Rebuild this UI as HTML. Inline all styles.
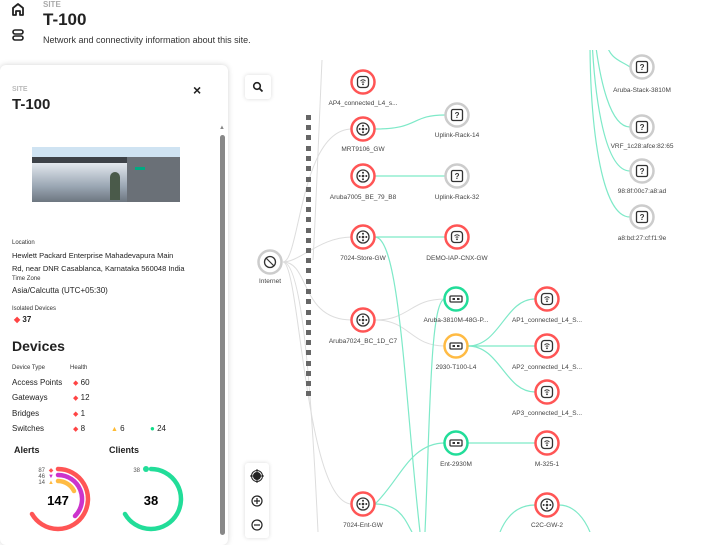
<!DOCTYPE html>
<html><head><meta charset="utf-8"><style>
*{margin:0;padding:0;box-sizing:border-box}
body{width:720px;height:532px;overflow:hidden;background:#fff;font-family:"Liberation Sans",sans-serif;color:#222;position:relative}
.abs{position:absolute}
.card{position:absolute;left:0;top:65px;width:228px;height:480px;background:#fff;border-radius:6px;box-shadow:0 0 6px rgba(0,0,0,.18)}
.s{font-size:7px;color:#333}
.b{font-size:8px;font-weight:bold;color:#222}
</style></head><body>
<svg class="abs" style="left:10px;top:2px" width="16" height="42" viewBox="0 0 16 42">
<path d="M3 13 V6 L8 2 L13 6 V13 H10 V9 H6 V13 Z" fill="none" stroke="#222" stroke-width="1.8" stroke-linejoin="round"/>
<rect x="3" y="28" width="10" height="4" rx="2" fill="none" stroke="#222" stroke-width="1.6"/>
<rect x="3" y="34" width="10" height="4" rx="2" fill="none" stroke="#222" stroke-width="1.6"/>
</svg>
<div class="abs" style="left:43px;top:0px;font-size:8px;color:#aaa;font-weight:bold">SITE</div>
<div class="abs" style="left:43px;top:10px;font-size:17px;font-weight:bold">T-100</div>
<div class="abs" style="left:43px;top:35px;font-size:9px;color:#333">Network and connectivity information about this site.</div>

<div class="card">
<div class="abs" style="left:12px;top:21px;font-size:7px;color:#bbb;font-weight:bold">SITE</div>
<div class="abs" style="left:12px;top:31px;font-size:15px;font-weight:bold">T-100</div>
<div class="abs" style="left:193px;top:17px;font-size:14px;font-weight:bold">×</div>
<div class="abs" style="left:32px;top:82px;width:148px;height:55px;background:#cfe3f2;overflow:hidden">
<div class="abs" style="left:0;top:10px;width:148px;height:6px;background:#3d4248"></div>
<div class="abs" style="left:0;top:16px;width:95px;height:39px;background:linear-gradient(#e3e8ee,#9aa6b3 60%,#6d7680)"></div>
<div class="abs" style="left:95px;top:10px;width:53px;height:45px;background:#6a7077"></div>
<div class="abs" style="left:103px;top:20px;width:10px;height:3px;background:#01a982"></div>
<div class="abs" style="left:78px;top:25px;width:10px;height:28px;background:#4a5a4a;border-radius:5px 5px 0 0"></div>
</div>
<div class="abs" style="left:220px;top:70px;width:5px;height:400px;background:#888;border-radius:3px"></div>
<div class="abs" style="left:219px;top:60px;font-size:6px;color:#888">▲</div>
<div class="abs s" style="left:12px;top:175px;font-size:6px">Location</div>
<div class="abs" style="left:12px;top:184px;font-size:7.5px;color:#222;line-height:13px;white-space:nowrap">Hewlett Packard Enterprise Mahadevapura Main<br>Rd, near DNR Casablanca, Karnataka 560048 India</div>
<div class="abs s" style="left:12px;top:211px;font-size:6px">Time Zone</div>
<div class="abs" style="left:12px;top:221px;font-size:8px">Asia/Calcutta (UTC+05:30)</div>
<div class="abs s" style="left:12px;top:241px;font-size:6px">Isolated Devices</div>
<div class="abs b" style="left:14px;top:250px"><span style="color:#f44">◆</span> 37</div>
<div class="abs" style="left:12px;top:273px;font-size:14px;font-weight:bold">Devices</div>
<div class="abs s" style="left:12px;top:300px;font-size:6px">Device Type</div>
<div class="abs s" style="left:70px;top:300px;font-size:6px">Health</div>
<div class="abs" style="left:12px;top:313px;font-size:8px">Access Points</div><div class="abs" style="left:73px;top:313px;font-size:8px"><span style="color:#f44;font-size:7px">◆</span> 60</div>
<div class="abs" style="left:12px;top:328px;font-size:8px">Gateways</div><div class="abs" style="left:73px;top:328px;font-size:8px"><span style="color:#f44;font-size:7px">◆</span> 12</div>
<div class="abs" style="left:12px;top:344px;font-size:8px">Bridges</div><div class="abs" style="left:73px;top:344px;font-size:8px"><span style="color:#f44;font-size:7px">◆</span> 1</div>
<div class="abs" style="left:12px;top:359px;font-size:8px">Switches</div><div class="abs" style="left:73px;top:359px;font-size:8px"><span style="color:#f44;font-size:7px">◆</span> 8</div>
<div class="abs" style="left:111px;top:359px;font-size:8px"><span style="color:#fb3;font-size:7px">▲</span> 6</div>
<div class="abs" style="left:150px;top:359px;font-size:8px"><span style="color:#1d8;font-size:8px">●</span> 24</div>
<div class="abs" style="left:14px;top:380px;font-size:9px;font-weight:bold">Alerts</div>
<div class="abs" style="left:109px;top:380px;font-size:9px;font-weight:bold">Clients</div>
</div>
<svg class="abs" style="left:0;top:455px" width="230" height="80">
<g transform="translate(58,44)">
<path d="M0 -30 A30 30 0 1 1 -26 15" fill="none" stroke="#f55" stroke-width="4.5" stroke-linecap="round"/>
<path d="M0 -24 A24 24 0 0 1 17 17" fill="none" stroke="#c3c" stroke-width="4.5" stroke-linecap="round"/>
<path d="M0 -18 A18 18 0 0 1 16 -8" fill="none" stroke="#fb4" stroke-width="4.5" stroke-linecap="round"/>
<text x="0" y="6" font-size="13" font-weight="bold" text-anchor="middle" font-family="Liberation Sans">147</text>
<text x="-13" y="-27" font-size="6" fill="#555" text-anchor="end">87</text>
<text x="-13" y="-21" font-size="6" fill="#555" text-anchor="end">46</text>
<text x="-13" y="-15" font-size="6" fill="#555" text-anchor="end">14</text>
<text x="-7" y="-27" font-size="6" fill="#f55" text-anchor="middle">◆</text>
<text x="-7" y="-21" font-size="6" fill="#c3c" text-anchor="middle">▼</text>
<text x="-7" y="-15" font-size="6" fill="#fb4" text-anchor="middle">▲</text>
</g>
<g transform="translate(151,44)">
<path d="M0 -30 A30 30 0 1 1 -26 15" fill="none" stroke="#2d9" stroke-width="4.5" stroke-linecap="round"/>
<circle cx="-5" cy="-30" r="3" fill="#2d9"/>
<text x="-11" y="-27" font-size="6" fill="#555" text-anchor="end">38</text>
<text x="0" y="6" font-size="13" font-weight="bold" text-anchor="middle" font-family="Liberation Sans">38</text>
</g>
</svg>
<svg class="abs" style="left:228px;top:50px" width="492" height="482" font-family="Liberation Sans" font-size="6.5" fill="#444">
<g transform="translate(-228,-50)" fill="none">
<g stroke="#ddd" stroke-width="1">
<path d="M322 60 C318 150 315 230 313 260"/>
<path d="M283 262 C300 262 300 129 352 129"/>
<path d="M283 262 C300 262 320 237 352 237"/>
<path d="M283 262 C310 262 300 320 352 320"/>
<path d="M283 262 C300 262 305 504 352 504"/>
<path d="M283 262 C300 262 310 360 318 532"/>
<path d="M375 320 C410 320 410 299 445 299"/>
<path d="M375 320 C410 320 410 346 445 346"/>
</g>
<g stroke="#7ee9c8" stroke-width="1.2">
<path d="M375 129 C420 129 410 115 445 115"/>
<path d="M375 176 H445"/>
<path d="M375 237 H445"/>
<path d="M375 237 C400 237 405 400 420 532"/>
<path d="M445 299 C430 299 430 420 425 532"/>
<path d="M468 346 C500 346 505 299 535 299"/>
<path d="M468 346 H535"/>
<path d="M468 346 C500 346 505 392 535 392"/>
<path d="M468 443 H535"/>
<path d="M445 443 C410 443 400 480 375 504"/>
<path d="M375 504 C400 504 405 520 412 532"/>
<path d="M535 505 C515 505 505 520 500 532"/>
<path d="M559 505 C575 505 585 520 590 532"/>
<path d="M605 40 C610 60 620 60 630 67"/>
<path d="M595 40 C600 80 610 127 630 127"/>
<path d="M592 40 C595 100 605 171 630 171"/>
<path d="M590 40 C590 120 600 217 630 217"/>
</g>
<g fill="#666"><rect x="306" y="115" width="5" height="5"/><rect x="306" y="125" width="5" height="5"/><rect x="306" y="135" width="5" height="5"/><rect x="306" y="146" width="5" height="5"/><rect x="306" y="156" width="5" height="5"/><rect x="306" y="166" width="5" height="5"/><rect x="306" y="177" width="5" height="5"/><rect x="306" y="187" width="5" height="5"/><rect x="306" y="197" width="5" height="5"/><rect x="306" y="207" width="5" height="5"/><rect x="306" y="217" width="5" height="5"/><rect x="306" y="228" width="5" height="5"/><rect x="306" y="238" width="5" height="5"/><rect x="306" y="248" width="5" height="5"/><rect x="306" y="258" width="5" height="5"/><rect x="306" y="268" width="5" height="5"/><rect x="306" y="279" width="5" height="5"/><rect x="306" y="289" width="5" height="5"/><rect x="306" y="299" width="5" height="5"/><rect x="306" y="310" width="5" height="5"/><rect x="306" y="320" width="5" height="5"/><rect x="306" y="330" width="5" height="5"/><rect x="306" y="340" width="5" height="5"/><rect x="306" y="350" width="5" height="5"/><rect x="306" y="361" width="5" height="5"/><rect x="306" y="371" width="5" height="5"/><rect x="306" y="381" width="5" height="5"/><rect x="306" y="391" width="5" height="5"/></g>
<defs>
<g id="gw"><circle r="6" fill="none" stroke="#333" stroke-width="1.3"/><circle r="1.3" fill="#333"/><circle cx="0" cy="-3.3" r="1" fill="#333"/><circle cx="0" cy="3.3" r="1" fill="#333"/><circle cx="-3.3" cy="0" r="1" fill="#333"/><circle cx="3.3" cy="0" r="1" fill="#333"/></g>
<g id="ap"><rect x="-5.5" y="-5.5" width="11" height="11" rx="3" fill="none" stroke="#333" stroke-width="1.3"/><path d="M-2.5 -1 Q0 -3.5 2.5 -1 M-1.3 0.5 Q0 -0.8 1.3 0.5" stroke="#333" stroke-width="0.9" fill="none"/><circle cy="2.3" r="0.9" fill="#333"/></g>
<g id="sw"><rect x="-6" y="-3" width="12" height="6" rx="1" fill="none" stroke="#333" stroke-width="1.3"/><rect x="-3.5" y="-1" width="2.5" height="2" fill="#333"/><rect x="1" y="-1" width="2.5" height="2" fill="#333"/></g>
<g id="un"><rect x="-5.5" y="-5.5" width="11" height="11" rx="1.5" fill="none" stroke="#333" stroke-width="1.3"/><text y="3" font-size="8" font-weight="bold" fill="#333" text-anchor="middle" stroke="none">?</text></g>
</defs>
<g stroke-width="2.5" fill="#fff">
<circle cx="363" cy="82" r="11.5" stroke="#f55"/><circle cx="363" cy="129" r="11.5" stroke="#f55"/><circle cx="363" cy="176" r="11.5" stroke="#f55"/><circle cx="363" cy="237" r="11.5" stroke="#f55"/><circle cx="363" cy="320" r="11.5" stroke="#f55"/><circle cx="363" cy="504" r="11.5" stroke="#f55"/>
<circle cx="457" cy="115" r="11.5" stroke="#ccc"/><circle cx="457" cy="176" r="11.5" stroke="#ccc"/><circle cx="457" cy="237" r="11.5" stroke="#f55"/>
<circle cx="270" cy="262" r="11.5" stroke="#ccc"/>
<circle cx="456" cy="299" r="11.5" stroke="#2d9"/><circle cx="456" cy="346" r="11.5" stroke="#fb4"/><circle cx="456" cy="443" r="11.5" stroke="#2d9"/>
<circle cx="547" cy="299" r="11.5" stroke="#f55"/><circle cx="547" cy="346" r="11.5" stroke="#f55"/><circle cx="547" cy="392" r="11.5" stroke="#f55"/><circle cx="547" cy="443" r="11.5" stroke="#f55"/><circle cx="547" cy="505" r="11.5" stroke="#f55"/>
<circle cx="642" cy="67" r="11.5" stroke="#ccc"/><circle cx="642" cy="127" r="11.5" stroke="#ccc"/><circle cx="642" cy="171" r="11.5" stroke="#ccc"/><circle cx="642" cy="217" r="11.5" stroke="#ccc"/>
</g>
<use href="#ap" x="363" y="82"/><use href="#gw" x="363" y="129"/><use href="#gw" x="363" y="176"/><use href="#gw" x="363" y="237"/><use href="#gw" x="363" y="320"/><use href="#gw" x="363" y="504"/>
<use href="#un" x="457" y="115"/><use href="#un" x="457" y="176"/><use href="#ap" x="457" y="237"/>
<g transform="translate(270,262)"><circle r="5.5" fill="none" stroke="#333" stroke-width="1.3"/><path d="M-4 -4 L4 4" stroke="#333" stroke-width="1.2"/></g>
<use href="#sw" x="456" y="299"/><use href="#sw" x="456" y="346"/><use href="#sw" x="456" y="443"/>
<use href="#ap" x="547" y="299"/><use href="#ap" x="547" y="346"/><use href="#ap" x="547" y="392"/><use href="#ap" x="547" y="443"/><use href="#gw" x="547" y="505"/>
<use href="#un" x="642" y="67"/><use href="#un" x="642" y="127"/><use href="#un" x="642" y="171"/><use href="#un" x="642" y="217"/>
<g fill="#444" stroke="none" text-anchor="middle" font-size="6.5">
<text x="363" y="105">AP4_connected_L4_s...</text>
<text x="363" y="151">MRT9106_GW</text>
<text x="363" y="199">Aruba7005_BE_79_B8</text>
<text x="363" y="260">7024-Store-GW</text>
<text x="363" y="343">Aruba7024_BC_1D_C7</text>
<text x="363" y="527">7024-Ent-GW</text>
<text x="457" y="137">Uplink-Rack-14</text>
<text x="457" y="199">Uplink-Rack-32</text>
<text x="457" y="260">DEMO-IAP-CNX-GW</text>
<text x="270" y="283">Internet</text>
<text x="456" y="322">Aruba-3810M-48G-P...</text>
<text x="456" y="369">2930-T100-L4</text>
<text x="456" y="466">Ent-2930M</text>
<text x="547" y="322">AP1_connected_L4_S...</text>
<text x="547" y="369">AP2_connected_L4_S...</text>
<text x="547" y="415">AP3_connected_L4_S...</text>
<text x="547" y="466">M-325-1</text>
<text x="547" y="527">C2C-GW-2</text>
<text x="642" y="92">Aruba-Stack-3810M</text>
<text x="642" y="148">VRF_1c28:afce:82:65</text>
<text x="642" y="193">98:8f:00c7:a8:ad</text>
<text x="642" y="240">a8:bd:27:cf:f1:9e</text>
</g>
</g>
</svg>
<div class="abs" style="left:245px;top:75px;width:26px;height:24px;background:#fff;box-shadow:0 0 4px rgba(0,0,0,.15);border-radius:3px"></div>
<svg class="abs" style="left:252px;top:81px" width="12" height="12"><circle cx="5" cy="5" r="3.3" fill="none" stroke="#222" stroke-width="1.6"/><path d="M7.5 7.5 L10.5 10.5" stroke="#222" stroke-width="1.8"/></svg>
<div class="abs" style="left:245px;top:463px;width:24px;height:75px;background:#fff;box-shadow:0 0 4px rgba(0,0,0,.15);border-radius:3px"></div>
<svg class="abs" style="left:249px;top:468px" width="16" height="64">
<circle cx="8" cy="8" r="4" fill="#222"/><circle cx="8" cy="8" r="5.5" fill="none" stroke="#222"/><path d="M8 1V15M1 8H15" stroke="#222"/>
<circle cx="8" cy="33" r="5" fill="none" stroke="#222" stroke-width="1.2"/><path d="M5 33H11M8 30V36" stroke="#222" stroke-width="1.2"/>
<circle cx="8" cy="57" r="5" fill="none" stroke="#222" stroke-width="1.2"/><path d="M5 57H11" stroke="#222" stroke-width="1.2"/>
</svg>
</body></html>
